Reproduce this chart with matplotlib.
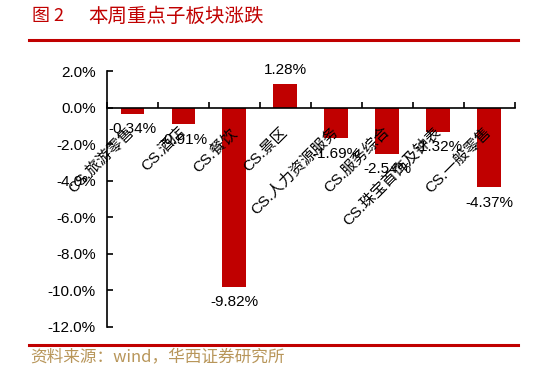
import matplotlib
matplotlib.use('Agg')
import matplotlib.pyplot as plt
from matplotlib.lines import Line2D

plt.rcParams['font.family'] = ['Liberation Sans', 'Noto Sans CJK SC', 'DejaVu Sans']

# 数据
categories = ['CS.旅游零售', 'CS.酒店', 'CS.餐饮', 'CS.景区', 'CS.人力资源服务',
              'CS.服务综合', 'CS.珠宝首饰及钟表', 'CS.一般零售']
values = [-0.34, -0.91, -9.82, 1.28, -1.69, -2.54, -1.32, -4.37]
y_ticks = [2, 0, -2, -4, -6, -8, -10, -12]

red = '#C00000'
cjk = ['Noto Sans CJK SC', 'DejaVu Sans']

fig = plt.figure(figsize=(5.33, 3.71), dpi=100)
ax = fig.add_axes([0.2008, 0.1186, 0.7652, 0.69])

x = list(range(len(values)))
ax.bar(x, values, width=0.47, color=red, zorder=2)

ax.set_ylim(-12, 2)
ax.set_xlim(-0.5, len(values) - 0.5)
ax.set_yticks(y_ticks)
ax.set_yticklabels([f'{t:.1f}%' for t in y_ticks], fontsize=11)

# 坐标轴样式
ax.spines['top'].set_visible(False)
ax.spines['right'].set_visible(False)
ax.spines['bottom'].set_position(('data', 0))
ax.spines['bottom'].set_linewidth(1.2)
ax.spines['left'].set_linewidth(1.2)
ax.tick_params(axis='y', direction='in', length=4, width=1.2, pad=8)

ax.set_xticks([i + 0.5 for i in x[:-1]] + [-0.5, len(values) - 0.5], minor=True)
ax.tick_params(axis='x', which='minor', direction='in', length=4, width=1.2)
ax.set_xticks(x)
ax.set_xticklabels([])
ax.tick_params(axis='x', which='major', length=0)

# 类别标签
for i, c in enumerate(categories):
    ax.annotate(c, xy=(i, 0), xytext=(0, -16), textcoords='offset points',
                rotation=45, rotation_mode='anchor', ha='right', va='center',
                fontsize=11, zorder=3)

# 数值标签
for i, v in enumerate(values):
    if v >= 0:
        ax.annotate(f'{v:.2f}%', xy=(i, v), xytext=(0, 5), textcoords='offset points',
                    ha='center', va='bottom', fontsize=11)
    else:
        ax.annotate(f'{v:.2f}%', xy=(i, v), xytext=(0, -6), textcoords='offset points',
                    ha='center', va='top', fontsize=11)

# 标题与来源
fig.text(32 / 533, 1 - 16 / 371, '图 2', color=red, fontsize=13,
         ha='left', va='center', family=cjk)
fig.text(88 / 533, 1 - 16 / 371, '本周重点子板块涨跌', color=red, fontsize=14,
         ha='left', va='center', family=cjk)
fig.add_artist(Line2D([29 / 533, 518 / 533], [1 - 40 / 371, 1 - 40 / 371],
                      color=red, linewidth=2.2))
fig.add_artist(Line2D([29 / 533, 518 / 533], [1 - 345 / 371, 1 - 345 / 371],
                      color=red, linewidth=2.2))
fig.text(30 / 533, 1 - 357 / 371, '资料来源：wind，华西证券研究所', color='#B8965A',
         fontsize=12, ha='left', va='center', family=cjk)

fig.savefig('out.png', dpi=100)
